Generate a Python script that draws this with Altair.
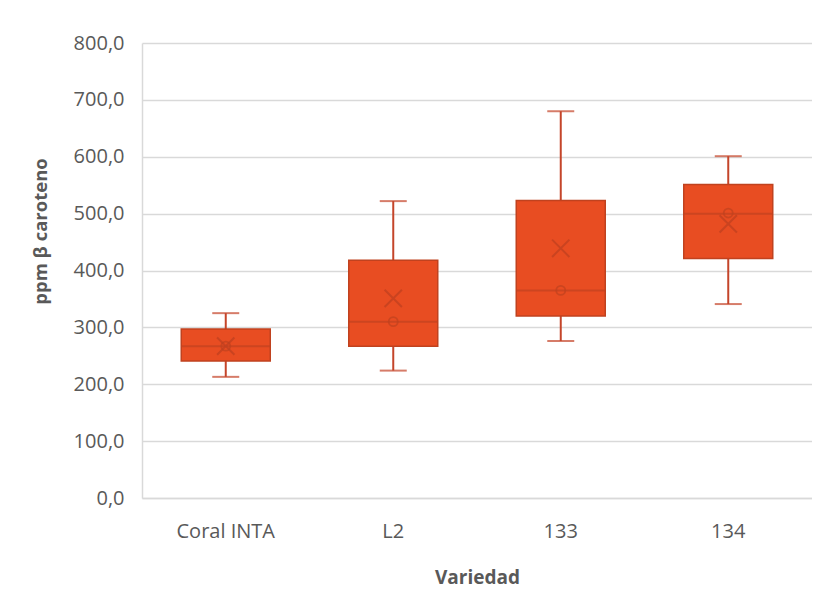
import altair as alt
import pandas as pd

variedades = ["Coral INTA", "L2", "133", "134"]
minimo = [213, 224, 276, 341]
q1 = [241, 267, 320, 421]
mediana = [267, 310, 365, 500]
q3 = [297, 418, 523, 551]
maximo = [325, 522, 680, 601]
media = [267, 351, 439, 482]
puntos = [267, 310, 365, 501]

df = pd.DataFrame({
    "Variedad": variedades,
    "min": minimo, "q1": q1, "med": mediana, "q3": q3,
    "max": maximo, "mean": media, "pt": puntos,
})

FILL = "#E84D22"
LINE = "#C4452A"
DARK = "#C0421F"
FONT = "Open Sans"
GRAY = "#595959"

x = alt.X("Variedad:N", sort=variedades, title="Variedad",
          scale=alt.Scale(paddingInner=0, paddingOuter=0),
          axis=alt.Axis(labelAngle=0, ticks=False, labelPadding=33,
                        labelBaseline="middle",
                        labelFont=FONT, labelFontSize=20, labelColor=GRAY,
                        titleFont=FONT, titleFontSize=19, titleColor=GRAY,
                        titleFontWeight="bold",
                        domainColor="#D9D9D9", domainWidth=1.5,
                        titleY=79, titleBaseline="middle"))
yscale = alt.Scale(domain=[0, 800], nice=False)
yaxis = alt.Axis(values=list(range(0, 801, 100)),
                 labelExpr="replace(format(datum.value, '.1f'), '.', ',')",
                 ticks=False, labelPadding=18, grid=True,
                 labelFont=FONT, labelFontSize=20, labelColor=GRAY,
                 gridColor="#D9D9D9", gridWidth=1.5,
                 domainColor="#D9D9D9", domainWidth=1.5,
                 title="ppm β caroteno", titleAngle=-90,
                 titleFont=FONT, titleFontSize=18.5, titleColor=GRAY,
                 titleFontWeight="bold",
                 titleX=-102, titleY=188, titleAlign="center",
                 titleBaseline="middle")

base = alt.Chart(df)

whisk_lo = base.mark_rule(color=LINE, strokeWidth=2).encode(
    x=x, y=alt.Y("min:Q", scale=yscale, axis=yaxis), y2="q1:Q")
whisk_hi = base.mark_rule(color=LINE, strokeWidth=2).encode(
    x=x, y=alt.Y("q3:Q"), y2="max:Q")
cap_lo = base.mark_tick(color=LINE, size=27, thickness=2).encode(
    x=x, y=alt.Y("min:Q"))
cap_hi = base.mark_tick(color=LINE, size=27, thickness=2).encode(
    x=x, y=alt.Y("max:Q"))
box = base.mark_bar(size=89, color=FILL, stroke=DARK, strokeWidth=1.5).encode(
    x=x, y=alt.Y("q1:Q"), y2="q3:Q")
med = base.mark_tick(color=DARK, size=89, thickness=2).encode(
    x=x, y=alt.Y("med:Q"))
pts = base.mark_point(shape="circle", size=81, filled=False,
                      stroke=DARK, strokeWidth=1.8).encode(
    x=x, y=alt.Y("pt:Q"))
mean = base.mark_point(shape="M-1,-1L1,1M-1,1L1,-1", size=300, filled=False,
                       stroke="#BE4020", strokeWidth=2).encode(
    x=x, y=alt.Y("mean:Q"))

chart = alt.layer(whisk_lo, whisk_hi, cap_lo, cap_hi, box, med, pts, mean).properties(
    width=670, height=455,
    autosize=alt.AutoSizeParams(type="none"),
    padding={"left": 134, "top": 35, "right": 0, "bottom": 93},
    background="white",
).configure_view(stroke=None)

chart.save("out.html", embed_options={"renderer": "svg", "actions": False})
